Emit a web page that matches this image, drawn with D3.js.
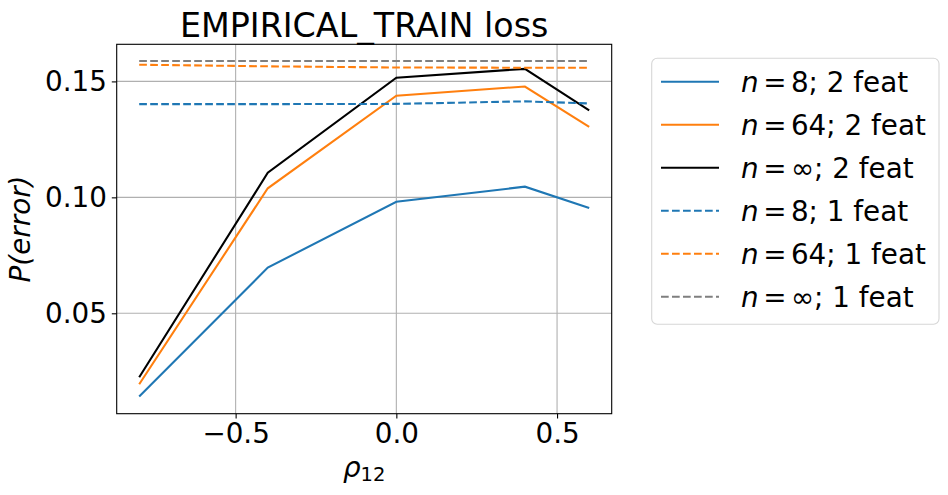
<!DOCTYPE html>
<html>
<head>
<meta charset="utf-8">
<script src="https://cdn.jsdelivr.net/npm/d3@7"></script>
<style>
  body { margin: 0; background: #fff; }
  svg text { font-family: "DejaVu Sans", sans-serif; fill: #000; }
</style>
</head>
<body>
<svg id="chart" width="948" height="495"></svg>
<script>
/** data **/
var rho = [-0.8, -0.4, 0.0, 0.4, 0.6];
var n8_2feat   = [0.0141, 0.0697, 0.0981, 0.1046, 0.0954];
var n64_2feat  = [0.0194, 0.1039, 0.1438, 0.1478, 0.1304];
var ninf_2feat = [0.0224, 0.1106, 0.1516, 0.1554, 0.1375];
var n8_1feat   = [0.1402, 0.1402, 0.1403, 0.1414, 0.1405];
var n64_1feat  = [0.1572, 0.1565, 0.1560, 0.1559, 0.1559];
var ninf_1feat = [0.1588, 0.1588, 0.1588, 0.1588, 0.1588];
var xTicks = [-0.5, 0.0, 0.5];
var yTicks = [0.05, 0.10, 0.15];
var nLabels = ["8", "64", "\u221e", "8", "64", "\u221e"];
var featLabels = ["; 2 feat", "; 2 feat", "; 2 feat", "; 1 feat", "; 1 feat", "; 1 feat"];

(function() {
var series = [
  { vals: n8_2feat,   color: "#1f77b4", dash: null },
  { vals: n64_2feat,  color: "#ff7f0e", dash: null },
  { vals: ninf_2feat, color: "#000000", dash: null },
  { vals: n8_1feat,   color: "#1f77b4", dash: "7.7,3.3" },
  { vals: n64_1feat,  color: "#ff7f0e", dash: "7.7,3.3" },
  { vals: ninf_1feat, color: "#7f7f7f", dash: "7.7,3.3" }
];

var svg = d3.select("#chart");
var pl = 116.7, pr = 611.7, pt = 44.3, pb = 413.7;

var x = d3.scaleLinear().domain([-0.87, 0.67]).range([pl, pr]);
var y = d3.scaleLinear().domain([0.0067, 0.166]).range([pb, pt]);

// grid
svg.append("g").selectAll("line").data(xTicks).enter().append("line")
  .attr("x1", function(d) { return x(d); }).attr("x2", function(d) { return x(d); })
  .attr("y1", pt).attr("y2", pb)
  .attr("stroke", "#b0b0b0").attr("stroke-width", 1.1);
svg.append("g").selectAll("line").data(yTicks).enter().append("line")
  .attr("y1", function(d) { return y(d); }).attr("y2", function(d) { return y(d); })
  .attr("x1", pl).attr("x2", pr)
  .attr("stroke", "#b0b0b0").attr("stroke-width", 1.1);

// lines
var line = d3.line()
  .x(function(d, i) { return x(rho[i]); })
  .y(function(d) { return y(d); });

svg.append("g").selectAll("path").data(series).enter().append("path")
  .attr("d", function(s) { return line(s.vals); })
  .attr("fill", "none")
  .attr("stroke", function(s) { return s.color; })
  .attr("stroke-width", 2.08)
  .attr("stroke-dasharray", function(s) { return s.dash; });

// axes
var xAxis = d3.axisBottom(x).tickValues(xTicks).tickSize(4.9).tickPadding(4.9)
  .tickFormat(function(d) { return d3.format(".1f")(d).replace("-", "\u2212"); });
var yAxis = d3.axisLeft(y).tickValues(yTicks).tickSize(4.9).tickPadding(4.9)
  .tickFormat(d3.format(".2f"));

var gx = svg.append("g").attr("transform", "translate(0," + pb + ")").call(xAxis);
var gy = svg.append("g").attr("transform", "translate(" + pl + ",0)").call(yAxis);
[gx, gy].forEach(function(g) {
  g.select(".domain").remove();
  g.selectAll(".tick line").attr("stroke", "#000").attr("stroke-width", 1.1);
  g.selectAll(".tick text").attr("font-size", "27.8px").attr("font-family", "DejaVu Sans").attr("fill", "#000");
});

// frame
svg.append("rect")
  .attr("x", pl).attr("y", pt)
  .attr("width", pr - pl).attr("height", pb - pt)
  .attr("fill", "none").attr("stroke", "#000").attr("stroke-width", 1.1);

// title & labels
svg.append("text").attr("x", (pl + pr) / 2).attr("y", 37)
  .attr("text-anchor", "middle").attr("font-size", "33.3px")
  .text("EMPIRICAL_TRAIN loss");

var xl = svg.append("text").attr("x", (pl + pr) / 2).attr("y", 477)
  .attr("text-anchor", "middle").attr("font-size", "27.8px");
xl.append("tspan").attr("font-style", "italic").text("\u03c1");
xl.append("tspan").attr("font-size", "19.5px").attr("dy", 4).text("12");

svg.append("text")
  .attr("transform", "translate(30," + ((pt + pb) / 2) + ") rotate(-90)")
  .attr("text-anchor", "middle").attr("font-size", "27.8px")
  .attr("font-style", "italic")
  .text("P(error)");

// legend
var lg = svg.append("g");
lg.append("rect")
  .attr("x", 651.7).attr("y", 58.3).attr("width", 287.3).attr("height", 266)
  .attr("rx", 5.5).attr("ry", 5.5)
  .attr("fill", "#fff").attr("stroke", "#d6d6d6").attr("stroke-width", 1.1);

var rowY = d3.scaleLinear().domain([0, 5]).range([81.7, 296.7]);
var items = lg.selectAll("g.item").data(series).enter().append("g")
  .attr("transform", function(d, i) { return "translate(0," + rowY(i) + ")"; });
items.append("line")
  .attr("x1", 661).attr("x2", 719).attr("y1", 0).attr("y2", 0)
  .attr("stroke", function(s) { return s.color; })
  .attr("stroke-width", 2.08)
  .attr("stroke-dasharray", function(s) { return s.dash; });
var t = items.append("text").attr("x", 741).attr("y", 10).attr("font-size", "27.8px");
t.append("tspan").attr("font-style", "italic").text("n");
t.append("tspan").attr("dx", 4.5).text("=");
t.append("tspan").attr("dx", 4.5).text(function(d, i) { return nLabels[i]; });
t.append("tspan").text(function(d, i) { return featLabels[i]; });
})();
</script>
</body>
</html>
